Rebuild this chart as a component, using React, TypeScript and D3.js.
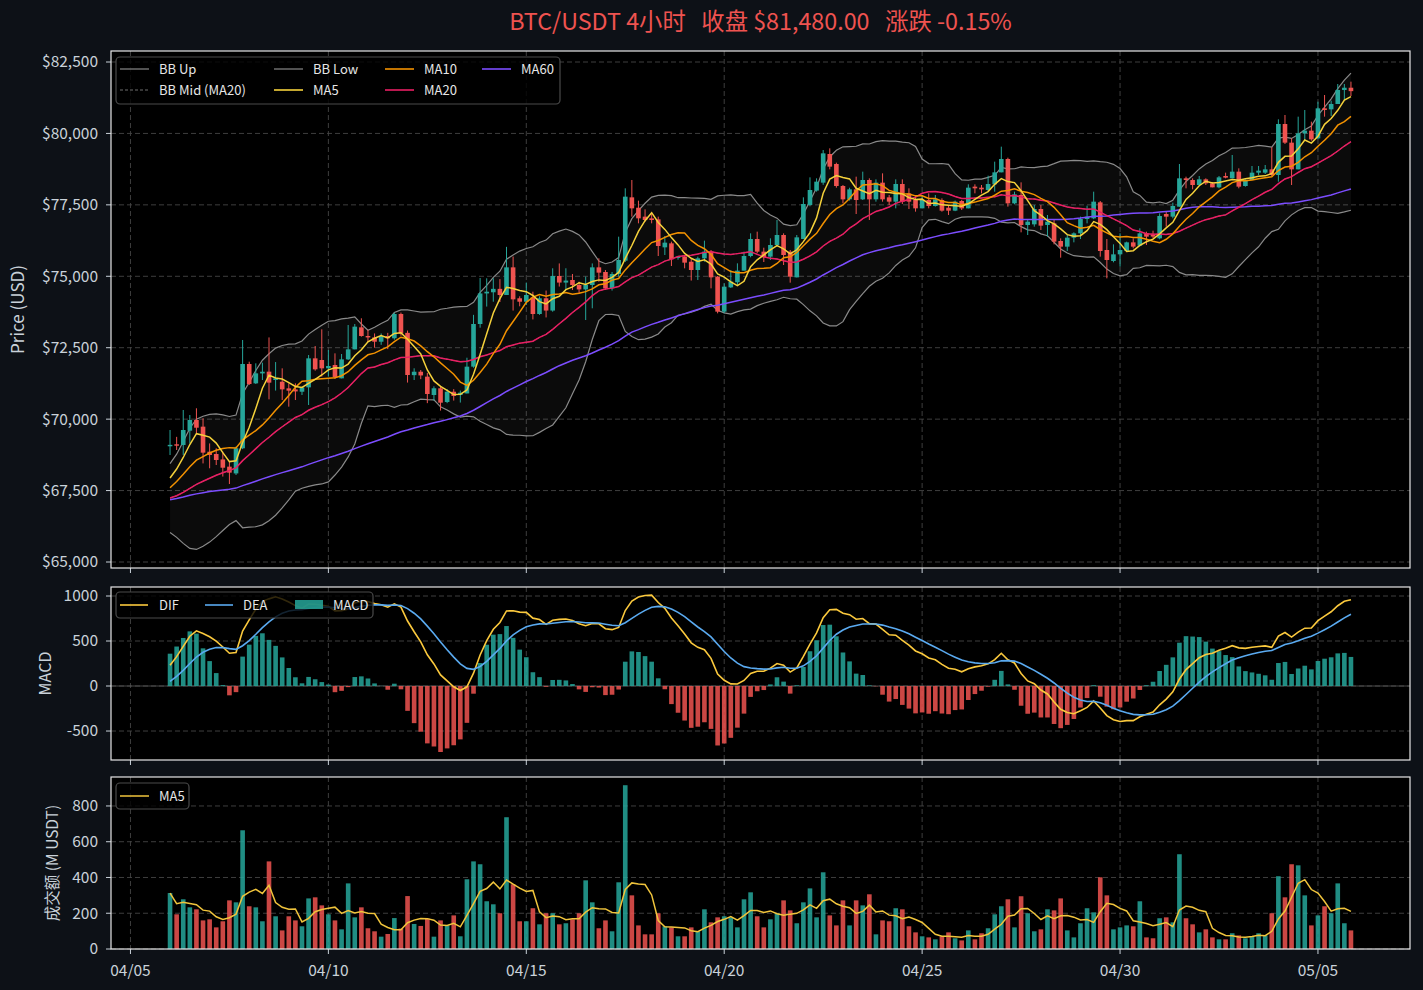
import React from "react";
import * as d3 from "d3";

// 4h candles starting 2026-04-06 00:00 (UTC)
const START = Date.UTC(2026, 3, 6, 0, 0);
const STEP = 4 * 3600 * 1000;

// closes before the first visible candle, only used to warm up MA / BOLL / MACD
const warmupClose = [
  66700,
  66300, 66500, 66400, 66600, 66450, 66350, 66550, 66700, 66600, 66800,
  66650, 66750, 66900, 66800, 66700, 66950, 66850, 67000, 66900, 67050,
  66950, 67100, 67000, 67200,
  67300, 67500, 67650, 67800, 67700, 67900, 68050, 67950, 68100, 67900,
  67800, 67850, 67600, 67700, 67500, 67350,
  67500, 67300, 67100, 66900, 66700, 66600, 66500, 66500, 66600, 67100,
  66900, 67100, 67300, 67400, 67600,
  67500, 67600, 67700, 67800,
];

const opens = [
  69050, 69120, 69095, 69597, 69970, 69737, 68860, 68780, 68590, 68337,
  68100, 68980, 71930, 71253, 71600, 71662, 71370, 71310, 71078, 71040,
  70960, 71113, 72128, 72070, 71780, 71895, 71428, 72093, 72443, 73213,
  72910, 72860, 72710, 72910, 72830, 73680, 73020, 71540, 71660, 71487,
  70845, 71080, 70600, 70960, 70845, 70900, 71837, 73330, 74400, 74440,
  74560, 74345, 75313, 74230, 74110, 74260, 73680, 74230, 73800, 75010,
  74780, 74870, 74695, 74540, 74695, 75313, 75150, 74578, 75080, 75547,
  77763, 77400, 77087, 77028, 76993, 76013, 76153, 75640, 75687, 75510,
  75220, 75628, 75862, 74987, 73762, 74613, 74790, 75197, 75710, 76305,
  75862, 75687, 76095, 76445, 75862, 74963, 76305, 77495, 78000, 78277,
  79280, 78930, 78160, 77693, 78043, 77693, 78370, 77693, 78277, 77763,
  77612, 78230, 77900, 77670, 77378, 77670, 77460, 77670, 77400, 77297,
  77635, 77378, 78137, 78102, 78020, 78218, 78638, 79105, 77553, 77845,
  76795, 76818, 77355, 76795, 76853, 76235, 76037, 76352, 76503, 77005,
  77028, 77588, 75920, 75535, 75768, 75885, 76188, 76072, 76503, 76470,
  76328, 77180, 77087, 77437, 78428, 78370, 78195, 78393, 78253, 78113,
  78510, 78428, 78662, 78160, 78370, 78627, 78627, 78743, 78545, 80330,
  79677, 78743, 80003, 80097, 79828, 80878, 80843, 81030, 81520, 81600,
];

const highs = [
  69620, 69380, 70320, 70145, 70380, 70030, 69150, 68980, 68860, 68512,
  69040, 72770, 72010, 71953, 71975, 72860, 71998, 71778, 71253, 71253,
  71137, 72245, 72560, 73143, 72420, 72303, 72280, 73295, 73330, 73530,
  73130, 73000, 73000, 73020, 73730, 73730, 73100, 71780, 71720, 71620,
  71150, 71150, 71050, 71050, 71000, 72150, 73650, 74940, 74930, 74930,
  74900, 76030, 75690, 74300, 74780, 74460, 74300, 74500, 75280, 75450,
  75280, 75080, 74810, 74990, 75450, 75630, 75220, 75150, 76387, 78078,
  78370, 77647, 77343, 77227, 77087, 76410, 76212, 75710, 75745, 75628,
  75687, 76247, 75920, 75010, 74753, 75220, 75453, 75862, 76503, 76562,
  76000, 76328, 76970, 76503, 75920, 76445, 77763, 78463, 78428, 79420,
  79478, 78977, 78195, 78100, 78487, 78662, 78428, 78393, 78603, 77845,
  78393, 78393, 78078, 77845, 77845, 77903, 77845, 77728, 77495, 77650,
  77670, 78218, 78218, 78195, 78522, 79012, 79537, 79152, 77962, 78288,
  76970, 77495, 77495, 77145, 77005, 76328, 76445, 76538, 77087, 77472,
  77962, 77635, 76305, 76118, 76503, 76212, 76328, 76678, 76562, 76596,
  77203, 77262, 77577, 78930, 78487, 78428, 78510, 78428, 78300, 78510,
  78627, 79245, 78778, 78393, 78860, 78860, 78895, 79513, 80493, 80645,
  79828, 80587, 80820, 80412, 81112, 81345, 81147, 81730, 81730, 81812,
];

const lows = [
  68745, 68920, 68745, 69150, 69500, 68450, 68280, 68395, 67990, 67730,
  68045, 68950, 71195, 71230, 71370, 70693, 71000, 70670, 70437, 70670,
  70845, 70495, 71697, 71487, 71487, 71405, 71428, 72070, 72443, 72887,
  72700, 72500, 72600, 72450, 72780, 72920, 71280, 71370, 71400, 70560,
  70650, 70300, 70560, 70650, 70580, 70900, 71800, 73200, 73940, 74110,
  74100, 74345, 73800, 73950, 73995, 73490, 73650, 73560, 73760, 74640,
  74520, 74520, 74400, 73470, 73880, 74810, 74520, 74500, 74990, 75500,
  77087, 76853, 76912, 76853, 75710, 75745, 75360, 75580, 75278, 74850,
  74870, 75512, 74578, 73703, 73703, 74590, 74695, 75197, 75663, 75803,
  75500, 75570, 76037, 75395, 74777, 74960, 76300, 77450, 77962, 78200,
  78743, 78100, 77553, 77650, 77180, 77670, 76970, 77612, 77612, 77495,
  77378, 77530, 77355, 77262, 77378, 77378, 77440, 77262, 77145, 77280,
  77320, 77378, 77903, 77903, 77962, 77962, 78638, 77437, 77518, 76538,
  76445, 76737, 76620, 76387, 76118, 75652, 75885, 76188, 76305, 76853,
  77000, 75687, 74928, 75488, 75337, 75860, 75978, 76050, 76095, 76328,
  76293, 76737, 77028, 77437, 78078, 78043, 78195, 78195, 78113, 78080,
  78428, 78428, 78078, 78137, 78370, 78545, 78580, 78510, 78312, 79630,
  78195, 78743, 79747, 79747, 79800, 80587, 80610, 81030, 81170, 81310,
];

const closes = [
  69100, 69070, 69620, 69970, 69700, 68827, 68745, 68570, 68300, 68127,
  68980, 71930, 71230, 71603, 71660, 71277, 71430, 71043, 70997, 70970,
  71110, 72128, 71743, 71778, 71860, 71463, 72093, 72443, 73237, 72910,
  72860, 72710, 72910, 72830, 73680, 73000, 71545, 71660, 71530, 70880,
  71080, 70576, 70960, 70810, 70925, 71837, 73330, 74400, 74460, 74560,
  74345, 75313, 74193, 74110, 74345, 73680, 74230, 73800, 75010, 74780,
  74850, 74695, 74540, 74695, 75313, 75127, 74578, 75080, 75570, 77787,
  77378, 77028, 76970, 76970, 76060, 76177, 75593, 75690, 75477, 75220,
  75628, 75862, 74963, 73762, 74637, 74812, 75197, 75710, 76305, 75862,
  75663, 76095, 76445, 75745, 74987, 76363, 77530, 78020, 78312, 79303,
  78837, 78160, 77693, 78043, 77670, 78370, 77693, 78277, 77693, 77612,
  78230, 77612, 77612, 77378, 77670, 77460, 77693, 77297, 77297, 77612,
  77378, 78102, 78078, 78043, 78230, 78638, 79105, 77553, 77868, 76795,
  76912, 77355, 76772, 76912, 76212, 76037, 76352, 76503, 77005, 77087,
  77612, 75885, 75570, 75768, 75920, 76188, 76037, 76503, 76387, 76390,
  77110, 77087, 77460, 78428, 78370, 78195, 78393, 78253, 78113, 78463,
  78452, 78662, 78137, 78370, 78627, 78697, 78743, 78545, 80330, 79677,
  78743, 80003, 80097, 79793, 80878, 80820, 81030, 81520, 81600, 81480,
];

// quote volume, million USDT
const volumes = [
  313, 194, 278, 233, 222, 160, 166, 121, 155, 272,
  261, 664, 239, 233, 155, 490, 183, 104, 183, 160,
  127, 283, 289, 244, 194, 160, 110, 367, 177, 233,
  116, 99, 69, 84, 173, 114, 296, 140, 129, 170,
  69, 160, 132, 188, 71, 390, 490, 474, 267, 250,
  200, 737, 362, 155, 155, 228, 138, 200, 200, 138,
  144, 166, 200, 384, 261, 116, 160, 99, 373, 916,
  300, 132, 82, 82, 200, 127, 121, 71, 71, 121,
  99, 222, 149, 177, 183, 177, 121, 278, 317, 183,
  121, 166, 200, 272, 216, 144, 261, 339, 177, 429,
  188, 132, 272, 132, 272, 244, 306, 82, 160, 155,
  228, 222, 127, 93, 71, 65, 54, 71, 93, 60,
  48, 104, 54, 88, 116, 194, 239, 278, 121, 295,
  200, 99, 110, 222, 216, 283, 104, 65, 144, 228,
  205, 401, 300, 110, 121, 132, 127, 267, 65, 60,
  172, 177, 149, 530, 172, 138, 93, 110, 65, 54,
  54, 88, 76, 60, 71, 88, 76, 200, 407, 289,
  474, 468, 300, 132, 188, 239, 200, 367, 144, 104,
];

const xTickDays = ["2026-04-05", "2026-04-10", "2026-04-15", "2026-04-20", "2026-04-25", "2026-04-30", "2026-05-05"];
const priceTicks = [65000, 67500, 70000, 72500, 75000, 77500, 80000, 82500];
const macdTicks = [-500, 0, 500, 1000];
const volumeTicks = [0, 200, 400, 600, 800];

const W = 1423;
const H = 990;
const LEFT = 111;
const RIGHT = 1410;
const MAIN = { top: 51, bottom: 568 };
const MACD = { top: 587, bottom: 760 };
const VOL = { top: 777, bottom: 949 };

const UP = "#26a69a";
const DOWN = "#ef5350";
const C_MA5 = "#f5d13b";
const C_MA10 = "#f39200";
const C_MA20 = "#e91e63";
const C_MA60 = "#7c4dff";
const C_BB = "#8a8a8a";
const C_DIF = "#fbc93d";
const C_DEA = "#5aaaf0";
const C_VMA = "#f0c43c";
const TXT = "#c9d1d9";
const GRID = "#454545";
const FONT = '"Noto Sans CJK SC", "Noto Sans", sans-serif';

type Num = number | null;

function sma(values: number[], n: number): Num[] {
  return values.map((_, i) => (i < n - 1 ? null : (d3.mean(values.slice(i - n + 1, i + 1)) as number)));
}

function rollingStd(values: number[], n: number): Num[] {
  return values.map((_, i) => (i < n - 1 ? null : (d3.deviation(values.slice(i - n + 1, i + 1)) as number)));
}

function ema(values: number[], span: number): number[] {
  const a = 2 / (span + 1);
  const out: number[] = [];
  values.forEach((v, i) => out.push(i === 0 ? v : a * v + (1 - a) * out[i - 1]));
  return out;
}

function Legend({ x, y, w, h, children }: { x: number; y: number; w: number; h: number; children: React.ReactNode }) {
  return (
    <g>
      <rect x={x} y={y} width={w} height={h} rx={4} fill="#000" fillOpacity={0.8} stroke="#4a4a4a" strokeWidth={1.2} />
      {children}
    </g>
  );
}

export default function App() {
  const n = closes.length;
  const skip = warmupClose.length;
  const all = [...warmupClose, ...closes];

  const ma5 = sma(all, 5).slice(skip);
  const ma10 = sma(all, 10).slice(skip);
  const ma20 = sma(all, 20).slice(skip);
  const ma60 = sma(all, 60).slice(skip);
  const sd20 = rollingStd(all, 20).slice(skip);
  const bbUp = ma20.map((m, i) => (m == null ? null : m + 2 * (sd20[i] as number)));
  const bbLow = ma20.map((m, i) => (m == null ? null : m - 2 * (sd20[i] as number)));

  const e12 = ema(all, 12);
  const e26 = ema(all, 26);
  const difAll = e12.map((v, i) => v - e26[i]);
  const deaAll = ema(difAll, 9);
  const dif = difAll.slice(skip);
  const dea = deaAll.slice(skip);
  const hist = dif.map((v, i) => 2 * (v - dea[i]));

  const volMa5 = volumes.map((_, i) => d3.mean(volumes.slice(Math.max(0, i - 4), i + 1)) as number);

  const times = closes.map((_, i) => new Date(START + i * STEP));
  const span = STEP * (n - 1);
  const x = d3
    .scaleUtc()
    .domain([new Date(START - 0.05 * span), new Date(START + 1.05 * span)])
    .range([LEFT, RIGHT]);
  const bw = x(new Date(START + 0.7 * STEP)) - x(new Date(START));

  const yP = d3.scaleLinear().domain([64790, 82885]).range([MAIN.bottom, MAIN.top]);
  const yM = d3.scaleLinear().domain([-822, 1100]).range([MACD.bottom, MACD.top]);
  const yV = d3.scaleLinear().domain([0, 962]).range([VOL.bottom, VOL.top]);

  const xTicks = xTickDays.map((s) => new Date(s + "T00:00:00Z"));
  const fmtDay = d3.utcFormat("%m/%d");

  const lineOf = (y: d3.ScaleLinear<number, number>) =>
    d3
      .line<Num>()
      .defined((d) => d != null)
      .x((_, i) => x(times[i]))
      .y((d) => y(d as number));

  const bbArea = d3
    .area<number>()
    .x((i) => x(times[i]))
    .y0((i) => yP(bbLow[i] as number))
    .y1((i) => yP(bbUp[i] as number))(d3.range(n).filter((i) => bbUp[i] != null));

  const last = closes[n - 1];
  const change = (last / closes[n - 2] - 1) * 100;
  const title = `BTC/USDT 4小时   收盘 $${d3.format(",.2f")(last)}   涨跌 ${change >= 0 ? "+" : ""}${change.toFixed(2)}%`;

  const panelFrame = (p: { top: number; bottom: number }, yTicks: number[], y: d3.ScaleLinear<number, number>, fmt: (v: number) => string, showX: boolean) => (
    <g>
      <rect x={LEFT} y={p.top} width={RIGHT - LEFT} height={p.bottom - p.top} fill="#000" />
      {xTicks.map((t, i) => (
        <line key={"gx" + i} x1={x(t)} x2={x(t)} y1={p.top} y2={p.bottom} stroke={GRID} strokeWidth={0.9} strokeDasharray="5,3" />
      ))}
      {yTicks.map((v, i) => (
        <line key={"gy" + i} x1={LEFT} x2={RIGHT} y1={y(v)} y2={y(v)} stroke={GRID} strokeWidth={0.9} strokeDasharray="5,3" />
      ))}
      {yTicks.map((v, i) => (
        <g key={"ty" + i}>
          <line x1={LEFT - 5} x2={LEFT} y1={y(v)} y2={y(v)} stroke={TXT} strokeWidth={1} />
          <text x={LEFT - 13} y={y(v)} dy="0.35em" textAnchor="end" fill={TXT} fontSize={15.5}>
            {fmt(v)}
          </text>
        </g>
      ))}
      {xTicks.map((t, i) => (
        <g key={"tx" + i}>
          <line x1={x(t)} x2={x(t)} y1={p.bottom} y2={p.bottom + 5} stroke={TXT} strokeWidth={1} />
          {showX && (
            <text x={x(t)} y={p.bottom + 27} textAnchor="middle" fill={TXT} fontSize={15.5}>
              {fmtDay(t)}
            </text>
          )}
        </g>
      ))}
    </g>
  );

  const spine = (p: { top: number; bottom: number }) => (
    <rect x={LEFT} y={p.top} width={RIGHT - LEFT} height={p.bottom - p.top} fill="none" stroke="#e6e6e6" strokeWidth={1.2} />
  );

  const mainLegend = [
    { label: "BB Up", color: C_BB, dash: undefined as string | undefined, w: 1.2 },
    { label: "BB Mid (MA20)", color: C_BB, dash: "3,2", w: 0.8 },
    { label: "BB Low", color: C_BB, dash: undefined, w: 1.2 },
    { label: "MA5", color: C_MA5, dash: undefined, w: 1.6 },
    { label: "MA10", color: C_MA10, dash: undefined, w: 1.6 },
    { label: "MA20", color: C_MA20, dash: undefined, w: 1.6 },
    { label: "MA60", color: C_MA60, dash: undefined, w: 1.6 },
  ];
  const legendCols = [120, 274, 385, 482];
  const legendRows = [69, 90];

  return (
    <div>
      <style>{`body{margin:0;background:#0d1117;}`}</style>
      <svg width={W} height={H} style={{ display: "block", background: "#0d1117", fontFamily: FONT }}>
        <defs>
          {[MAIN, MACD, VOL].map((p, i) => (
            <clipPath id={"clip" + i} key={i}>
              <rect x={LEFT} y={p.top} width={RIGHT - LEFT} height={p.bottom - p.top} />
            </clipPath>
          ))}
        </defs>

        <text x={(LEFT + RIGHT) / 2} y={30} textAnchor="middle" fill={DOWN} fontSize={23.3} style={{ whiteSpace: "pre" }}>
          {title}
        </text>

        {/* price panel */}
        {panelFrame(MAIN, priceTicks, yP, (v) => "$" + d3.format(",")(v), false)}
        <g clipPath="url(#clip0)">
          <path d={bbArea ?? ""} fill="#ffffff" fillOpacity={0.045} />
          <path d={lineOf(yP)(bbUp) ?? ""} fill="none" stroke={C_BB} strokeWidth={1.2} />
          <path d={lineOf(yP)(bbLow) ?? ""} fill="none" stroke={C_BB} strokeWidth={1.2} />
          <path d={lineOf(yP)(ma20) ?? ""} fill="none" stroke={C_BB} strokeWidth={0.8} strokeDasharray="3,2" />
          {closes.map((c, i) => {
            const o = opens[i];
            const col = c >= o ? UP : DOWN;
            const cx = x(times[i]);
            const top = yP(Math.max(o, c));
            const hgt = Math.max(0.8, yP(Math.min(o, c)) - top);
            return (
              <g key={i}>
                <line x1={cx} x2={cx} y1={yP(highs[i])} y2={yP(lows[i])} stroke={col} strokeWidth={1} />
                <rect x={cx - bw / 2} y={top} width={bw} height={hgt} fill={col} />
              </g>
            );
          })}
          <path d={lineOf(yP)(ma60) ?? ""} fill="none" stroke={C_MA60} strokeWidth={1.5} />
          <path d={lineOf(yP)(ma20) ?? ""} fill="none" stroke={C_MA20} strokeWidth={1.5} />
          <path d={lineOf(yP)(ma10) ?? ""} fill="none" stroke={C_MA10} strokeWidth={1.5} />
          <path d={lineOf(yP)(ma5) ?? ""} fill="none" stroke={C_MA5} strokeWidth={1.5} />
        </g>
        {spine(MAIN)}
        <Legend x={116} y={57} w={444} h={47}>
          {mainLegend.map((e, k) => {
            const cx = legendCols[Math.floor(k / 2)];
            const cy = legendRows[k % 2];
            return (
              <g key={e.label}>
                <line x1={cx} x2={cx + 29} y1={cy} y2={cy} stroke={e.color} strokeWidth={e.w} strokeDasharray={e.dash} />
                <text x={cx + 39} y={cy} dy="0.35em" fill="#e6e6e6" fontSize={13}>
                  {e.label}
                </text>
              </g>
            );
          })}
        </Legend>
        <text transform={`translate(24,${(MAIN.top + MAIN.bottom) / 2}) rotate(-90)`} textAnchor="middle" fill={TXT} fontSize={17}>
          Price (USD)
        </text>

        {/* MACD panel */}
        {panelFrame(MACD, macdTicks, yM, (v) => String(v), false)}
        <g clipPath="url(#clip1)">
          <line x1={LEFT} x2={RIGHT} y1={yM(0)} y2={yM(0)} stroke="#5a5a5a" strokeWidth={0.8} />
          {hist.map((h, i) => (
            <rect
              key={i}
              x={x(times[i]) - bw / 2}
              y={h >= 0 ? yM(h) : yM(0)}
              width={bw}
              height={Math.abs(yM(h) - yM(0))}
              fill={h >= 0 ? UP : DOWN}
              fillOpacity={0.85}
            />
          ))}
          <path d={lineOf(yM)(dif) ?? ""} fill="none" stroke={C_DIF} strokeWidth={1.6} />
          <path d={lineOf(yM)(dea) ?? ""} fill="none" stroke={C_DEA} strokeWidth={1.6} />
        </g>
        {spine(MACD)}
        <Legend x={116} y={592} w={257} h={26}>
          <line x1={120} x2={148} y1={605} y2={605} stroke={C_DIF} strokeWidth={1.6} />
          <text x={159} y={605} dy="0.35em" fill="#e6e6e6" fontSize={13}>DIF</text>
          <line x1={205} x2={233} y1={605} y2={605} stroke={C_DEA} strokeWidth={1.6} />
          <text x={243} y={605} dy="0.35em" fill="#e6e6e6" fontSize={13}>DEA</text>
          <rect x={295} y={600} width={28} height={9} fill={UP} fillOpacity={0.85} />
          <text x={333} y={605} dy="0.35em" fill="#e6e6e6" fontSize={13}>MACD</text>
        </Legend>
        <text transform={`translate(51,${(MACD.top + MACD.bottom) / 2}) rotate(-90)`} textAnchor="middle" fill={TXT} fontSize={16}>
          MACD
        </text>

        {/* volume panel */}
        {panelFrame(VOL, volumeTicks, yV, (v) => String(v), true)}
        <g clipPath="url(#clip2)">
          {volumes.map((v, i) => (
            <rect
              key={i}
              x={x(times[i]) - bw / 2}
              y={yV(v)}
              width={bw}
              height={yV(0) - yV(v)}
              fill={closes[i] >= opens[i] ? UP : DOWN}
              fillOpacity={0.85}
            />
          ))}
          <path d={lineOf(yV)(volMa5) ?? ""} fill="none" stroke={C_VMA} strokeWidth={1.5} />
        </g>
        {spine(VOL)}
        <Legend x={116} y={783} w={73} h={26}>
          <line x1={120} x2={149} y1={796} y2={796} stroke={C_VMA} strokeWidth={1.5} />
          <text x={159} y={796} dy="0.35em" fill="#e6e6e6" fontSize={13}>MA5</text>
        </Legend>
        <text transform={`translate(58,${(VOL.top + VOL.bottom) / 2}) rotate(-90)`} textAnchor="middle" fill={TXT} fontSize={15.5}>
          成交额 (M USDT)
        </text>
      </svg>
    </div>
  );
}
